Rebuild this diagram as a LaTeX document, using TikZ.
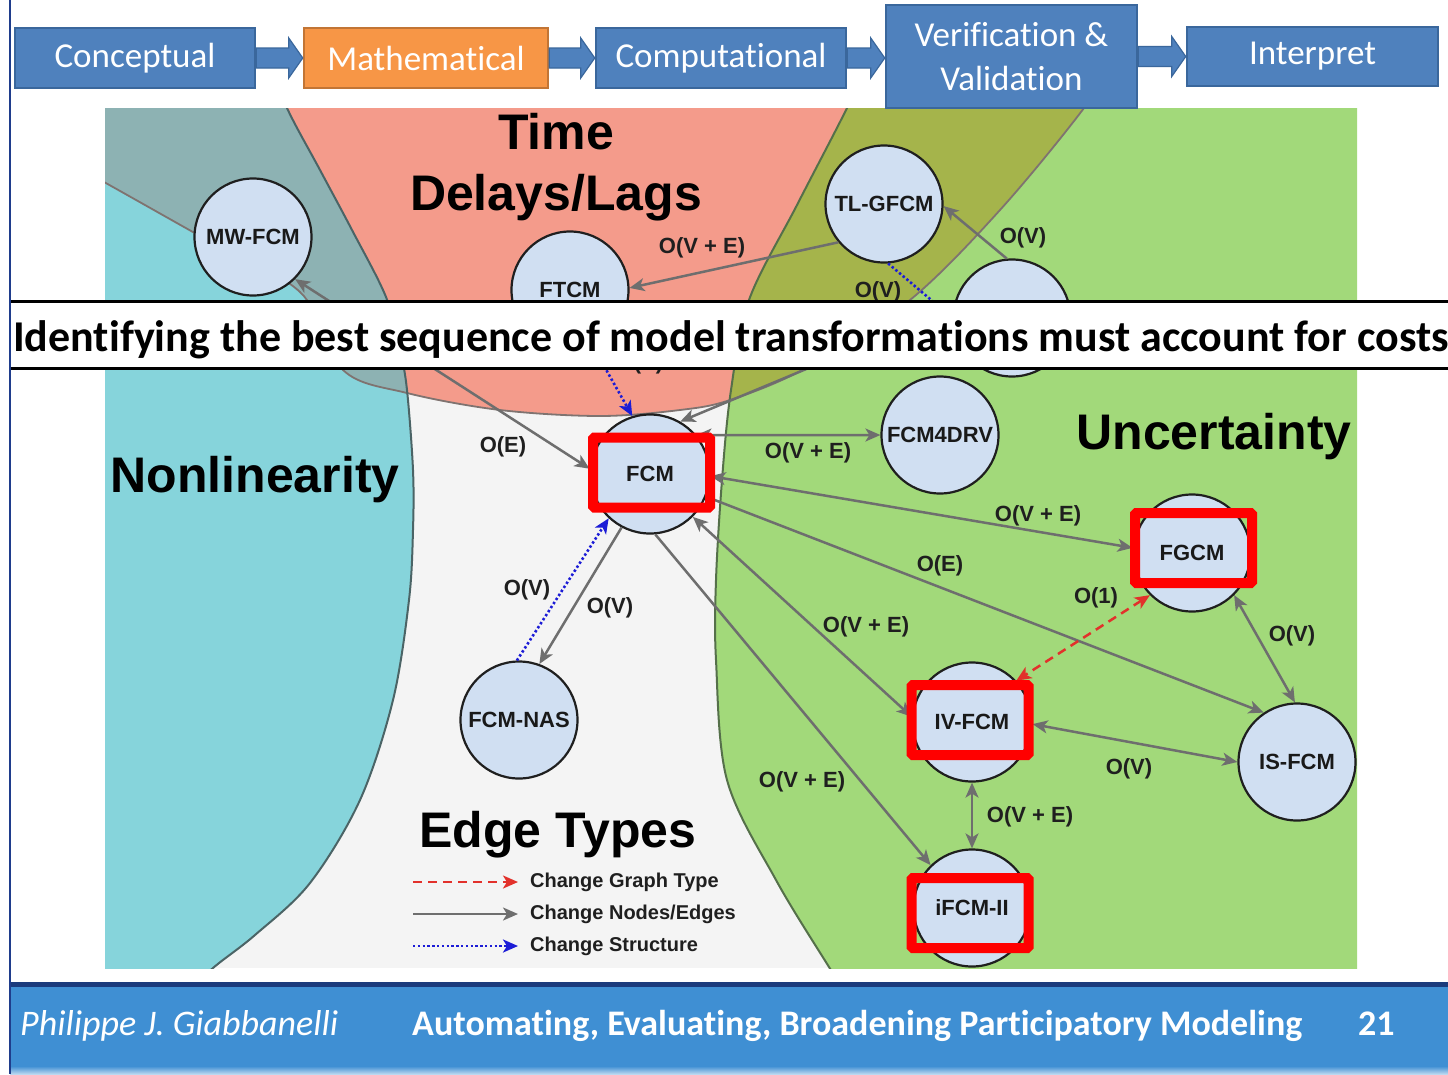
\documentclass[tikz,border=0pt]{standalone}
\usepackage{fontspec}
\setmainfont{Liberation Sans}
\newfontfamily\hvf{Liberation Sans}
\newfontfamily\carl[Ligatures=NoCommon]{Carlito}
\usetikzlibrary{arrows.meta,calc}
\definecolor{boxblue}{HTML}{4F81BD}
\definecolor{boxedge}{HTML}{3A679C}
\definecolor{boxorange}{HTML}{F79646}
\definecolor{orangeedge}{HTML}{C27535}
\definecolor{panelbg}{HTML}{F4F4F4}
\definecolor{cyanr}{HTML}{86D4DB}
\definecolor{tealr}{HTML}{8DB2B3}
\definecolor{salmonr}{HTML}{F49B8B}
\definecolor{greenr}{HTML}{A2D97A}
\definecolor{oliver}{HTML}{A5B44B}
\definecolor{cyanline}{HTML}{4B6466}
\definecolor{redline}{HTML}{7F7370}
\definecolor{greenline}{HTML}{55704A}
\definecolor{nodefill}{HTML}{D0DFF2}
\definecolor{edgegray}{HTML}{6E6E6E}
\definecolor{edgeblue}{HTML}{1C1CD6}
\definecolor{edgered}{HTML}{E2312B}
\definecolor{hlred}{HTML}{FF0000}
\definecolor{footblue}{HTML}{3F8FD3}
\definecolor{footdark}{HTML}{1B3B7C}
\definecolor{navyline}{HTML}{1F3D8C}
\newcommand\toparrow[2]{%
  \filldraw[fill=boxblue, draw=boxedge, line width=1.2pt] let \p1=(#1.east), \p2=(#2.west) in
    (\x1,\y1+10pt) -- (\x2-14pt,\y1+10pt) -- (\x2-14pt,\y1+20pt) -- (\x2,\y1) --
    (\x2-14pt,\y1-20pt) -- (\x2-14pt,\y1-10pt) -- (\x1,\y1-10pt) -- cycle;}
\begin{document}
\begin{tikzpicture}[x=1pt,y=-1pt,
  circ/.style={circle, draw=black!88, line width=2.2pt, fill=nodefill, minimum size=117pt, inner sep=0pt,
    font=\hvf\bfseries\fontsize{22}{26}\selectfont, text=black!90},
  lab/.style={font=\hvf\bfseries\fontsize{22}{26}\selectfont, text=black!88, inner sep=0pt},
  leglab/.style={font=\hvf\bfseries\fontsize{20}{23}\selectfont, text=black!88, inner sep=0pt, anchor=west},
  big/.style={font=\hvf\bfseries\fontsize{50}{56}\selectfont, inner sep=0pt, anchor=base},
  gedge/.style={draw=edgegray, line width=2.5pt, >={Stealth[length=15pt,width=13pt,inset=4pt]}},
  bedge/.style={draw=edgeblue, line width=2.6pt, dash pattern=on 2.4pt off 2.4pt, >={Stealth[length=15pt,width=13pt,inset=4pt]}},
  redge/.style={draw=edgered, line width=2.5pt, dash pattern=on 9pt off 6pt, >={Stealth[length=15pt,width=13pt,inset=4pt]}},
  hlbox/.style={draw=hlred, line width=10pt, minimum width=117pt, minimum height=70pt, inner sep=0pt, rounded corners=1.5pt},
  topbox/.style={draw=boxedge, line width=2.5pt, fill=boxblue, text=white, font=\carl\fontsize{35}{44}\selectfont, inner sep=0pt, align=center},
  foot/.style={text=white, inner sep=0pt, anchor=base west}
]
\useasboundingbox (0,0) rectangle (1448,1074);
\fill[white] (0,0) rectangle (1448,1074);

% ---------- regions ----------
\def\CyanP{(0,60) -- plot[smooth,tension=.55] coordinates {(270,60) (287,108) (320,170) (352,230) (386,297) (400,350) (407,390) (413,470) (413,530) (409,600) (393,700) (360,800) (310,883) (255,935) (213,968) (180,1000)} -- (0,1000) -- cycle}
\def\RedP{(40,40) -- (40,150) -- plot[smooth,tension=.55] coordinates {(60,158) (104,182) (200,236) (300,292) (343,370) (407,393) (500,410) (600,416) (680,410) (730,400) (806,368) (910,300) (1000,210) (1084,108) (1120,50)} -- cycle}
\def\GreenP{(1500,40) -- (880,40) -- plot[smooth,tension=.55] coordinates {(868,60) (847,108) (797,205) (749,300) (731,390) (722,480) (716,580) (716,660) (727,780) (776,880) (829,967) (850,1000)} -- (1500,1000) -- cycle}
\begin{scope}
  \clip (105,108) rectangle (1357,968);
  \fill[panelbg] (105,108) rectangle (1357,968);
  \fill[cyanr] \CyanP;
  \fill[greenr] \GreenP;
  \fill[salmonr] \RedP;
  \begin{scope}\clip \CyanP; \fill[tealr] \RedP; \end{scope}
  \begin{scope}\clip \GreenP; \fill[oliver] \RedP; \end{scope}
  \draw[redline, line width=1.8pt] \RedP;
  \draw[cyanline, line width=2pt] \CyanP;
  \draw[greenline, line width=2pt] \GreenP;
\end{scope}

% ---------- region labels ----------
\node[big] (tTime) at (556,149) {Time};
\node[big] (tDelay) at (556,210) {Delays/Lags};
\node[big] (tNon) at (255,492) {Nonlinearity};
\node[big] (tUnc) at (1214,449) {Uncertainty};
\node[big] (tEdge) at (558,847) {Edge Types};

% ---------- nodes ----------
\node[circ] (mw) at (253,237) {MW-FCM};
\node[circ] (ftcm) at (570,290) {FTCM};
\node[circ] (tlg) at (884,204) {TL-GFCM};
\node[circ] (hid) at (1012,318) {};
\node[circ, minimum size=119pt] (fcm) at (650,474) {FCM};
\node[circ] (drv) at (940,435) {FCM4DRV};
\node[circ] (fgcm) at (1192,553) {FGCM};
\node[circ, minimum size=119pt] (ivf) at (972,722) {IV-FCM};
\node[circ] (isf) at (1297,762) {IS-FCM};
\node[circ] (ifc) at (972,908) {iFCM-II};
\node[circ] (nas) at (519,720) {FCM-NAS};

% ---------- edges ----------
\draw[gedge,->] (tlg.220) -- (ftcm.2);
\draw[gedge,->] (hid.95) -- (tlg.-2);
\draw[bedge,->] (tlg.-86) -- (hid.180);
\draw[gedge,->] (hid.170) -- (fcm.60);
\draw[bedge,->] (ftcm.-68) -- (fcm.107);
\draw[gedge,<->] (mw.-45) -- (fcm.175);
\draw[gedge,<->] (fcm.40) -- (drv.180);
\draw[gedge,<->] (fcm.-2) -- (fgcm.175);
\draw[gedge,->] (fcm.-22) -- (isf.124);
\draw[gedge,<->] (fcm.-45) -- (ivf.175);
\draw[gedge,->] (fcm.-85) -- (ifc.134);
\draw[gedge,->] (fcm.-118) -- (nas.70);
\draw[bedge,->] (nas.92) -- (fcm.-133);
\draw[redge,<->] (fgcm.-135) -- (ivf.43);
\draw[gedge,<->] (fgcm.-45) -- (isf.92);
\draw[gedge,<->] (ivf.-2) -- (isf.180);
\draw[gedge,<->] (ivf.-90) -- (ifc.90);

% ---------- edge labels ----------
\node[lab] (l1) at (702,248) {O(V + E)};
\node[lab] (l2) at (1023,238) {O(V)};
\node[lab] (l3) at (878,292) {O(V)};
\node[lab] (l4) at (640,364) {O(V)};
\node[lab] (l5) at (503,447) {O(E)};
\node[lab] (l6) at (808,453) {O(V + E)};
\node[lab] (l7) at (1038,516) {O(V + E)};
\node[lab] (l8) at (940,566) {O(E)};
\node[lab] (l9) at (866,627) {O(V + E)};
\node[lab] (l10) at (802,782) {O(V + E)};
\node[lab] (l11) at (1096,598) {O(1)};
\node[lab] (l12) at (1292,636) {O(V)};
\node[lab] (l13) at (1129,769) {O(V)};
\node[lab] (l14) at (1030,817) {O(V + E)};
\node[lab] (l15) at (527,590) {O(V)};
\node[lab] (l16) at (610,608) {O(V)};

% ---------- highlight boxes ----------
\node[hlbox] (h1) at (651.5,472.5) {};
\node[hlbox] (h2) at (1193.5,548) {};
\node[hlbox] (h3) at (970,720) {};
\node[hlbox] (h4) at (970,913) {};

% ---------- legend ----------
\coordinate (lr1) at (413,882); \coordinate (lr2) at (518,882);
\coordinate (lg1) at (413,914); \coordinate (lg2) at (518,914);
\coordinate (lb1) at (413,946); \coordinate (lb2) at (518,946);
\draw[redge,->] (lr1) -- (lr2);
\draw[gedge,->] (lg1) -- (lg2);
\draw[bedge,->] (lb1) -- (lb2);
\node[leglab] (t1) at (530,882) {Change Graph Type};
\node[leglab] (t2) at (530,914) {Change Nodes/Edges};
\node[leglab] (t3) at (530,946) {Change Structure};

% ---------- banner ----------
\fill[white] (10,301) rectangle (1448,369);
\draw[black, line width=3pt] (10,301.5) -- (1448,301.5);
\draw[black, line width=3pt] (10,368.5) -- (1448,368.5);
\begin{scope}
\clip (10,300) rectangle (1448,370);
\node[inner sep=0pt, anchor=base west, font=\carl\bfseries\fontsize{44}{50}\selectfont] (banner) at (13,351)
  {Identifying the best sequence of model transformations must account for costs};
\end{scope}

% ---------- top process boxes ----------
\node[topbox, minimum width=240pt, minimum height=60pt] (b1) at (135,58) {Conceptual};
\node[topbox, minimum width=244pt, minimum height=60pt, fill=boxorange, draw=orangeedge] (b2) at (426,58) {Mathematical};
\node[topbox, minimum width=250pt, minimum height=60pt] (b3) at (721,58) {Computational};
\node[topbox, minimum width=251pt, minimum height=103pt] (b4) at (1011.5,56.5) {Verification \&\\Validation};
\node[topbox, minimum width=251pt, minimum height=59pt] (b5) at (1312.5,56.5) {Interpret};
\toparrow{b1}{b2}
\toparrow{b2}{b3}
\toparrow{b3}{b4}
\toparrow{b4}{b5}

% ---------- footer ----------
\fill[footdark] (10,982) rectangle (1448,987);
\fill[footblue] (10,987) rectangle (1448,1066);
\fill[top color=footblue, bottom color=footblue!35!white] (10,1066) rectangle (1448,1074);
\node[foot, font=\carl\itshape\fontsize{36}{42}\selectfont] (f1) at (20,1035) {Philippe J. Giabbanelli};
\node[foot, font=\carl\bfseries\fontsize{36}{42}\selectfont] (f2) at (412,1035) {Automating, Evaluating, Broadening Participatory Modeling};
\node[foot, font=\carl\bfseries\fontsize{36}{42}\selectfont] (f3) at (1358,1035) {21};

\draw[navyline, line width=2.5pt] (10,0) -- (10,1074);
\end{tikzpicture}
\end{document}
